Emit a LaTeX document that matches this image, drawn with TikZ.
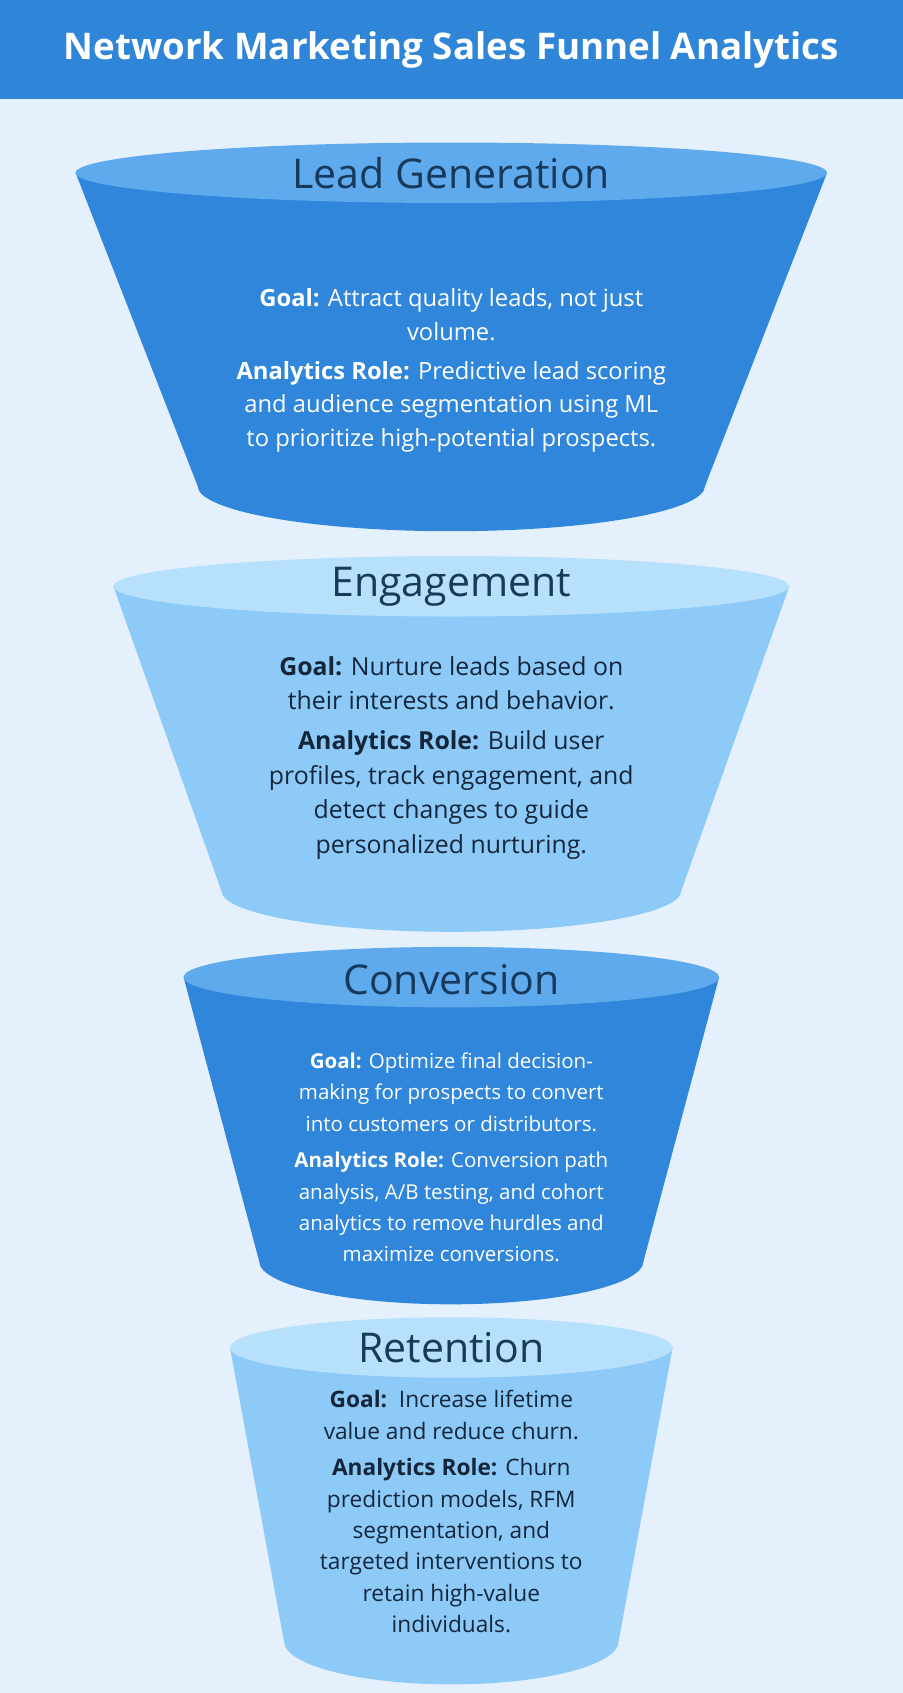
\documentclass[tikz,border=0pt]{standalone}
\usepackage{fontspec}
\setmainfont{Open Sans}
\definecolor{bgc}{HTML}{E4F1FC}
\definecolor{barc}{HTML}{2F86D8}
\definecolor{darkf}{HTML}{2F86DA}
\definecolor{darkt}{HTML}{5EAAEC}
\definecolor{lightf}{HTML}{8DCAF8}
\definecolor{lightt}{HTML}{B7E0FC}
\definecolor{headc}{HTML}{17395C}
\definecolor{txtd}{HTML}{14263A}
\tikzset{
  heading/.style={font=\fontsize{38}{42}\selectfont, text=headc},
  bodyw/.style={font=\fontsize{22}{31}\selectfont, text=white, align=center},
  bodyd/.style={font=\fontsize{23}{32}\selectfont, text=txtd, align=center},
}
\newcommand{\funnelshape}[7]{
  \fill[#6] (418-#2,#1) -- (418-#4,#3) arc[start angle=180,end angle=0,x radius=#4,y radius=#5] -- (418+#2,#1) -- cycle;
  \fill[#7] (418,#1) ellipse[x radius=#2,y radius=28];
}
\begin{document}
\begin{tikzpicture}[x=1pt,y=-1pt]
\useasboundingbox (0,0) rectangle (836,1568);
\fill[bgc] (0,0) rectangle (836,1568);
\fill[barc] (0,0) rectangle (836,92);
\node[font=\fontsize{34}{40}\selectfont\bfseries, text=white] (title) at (418,46) {Network Marketing Sales Funnel Analytics};

\funnelshape{160}{348}{450}{235}{42}{darkf}{darkt}
\node[heading] (h1) at (418,160) {Lead Generation};
\node[bodyw] (b1) at (418,343) {\textbf{Goal:} Attract quality leads, not just\\volume.\\[5pt]
\textbf{Analytics Role:} Predictive lead scoring\\and audience segmentation using ML\\to prioritize high-potential prospects.};

\funnelshape{543}{313}{825}{213}{38}{lightf}{lightt}
\node[heading] (h2) at (418,543) {Engagement};
\node[bodyd] (b2) at (418,702) {\textbf{Goal:} Nurture leads based on\\their interests and behavior.\\[5pt]
\textbf{Analytics Role:} Build user\\profiles, track engagement, and\\detect changes to guide\\personalized nurturing.};

\funnelshape{905}{248}{1168}{178}{40}{darkf}{darkt}
\node[heading] (h3) at (418,907) {Conversion};
\node[bodyw,font=\fontsize{19}{29}\selectfont] (b3) at (418,1072) {\textbf{Goal:} Optimize final decision-\\making for prospects to convert\\into customers or distributors.\\[5pt]
\textbf{Analytics Role:} Conversion path\\analysis, A/B testing, and cohort\\analytics to remove hurdles and\\maximize conversions.};

\funnelshape{1248}{205}{1520}{155}{40}{lightf}{lightt}
\node[heading] (h4) at (418,1248) {Retention};
\node[bodyd,font=\fontsize{21}{29}\selectfont] (b4) at (418,1400) {\textbf{Goal:}\ \ Increase lifetime\\value and reduce churn.\\[5pt]
\textbf{Analytics Role:} Churn\\prediction models, RFM\\segmentation, and\\targeted interventions to\\retain high-value\\individuals.};
\end{tikzpicture}
\end{document}
